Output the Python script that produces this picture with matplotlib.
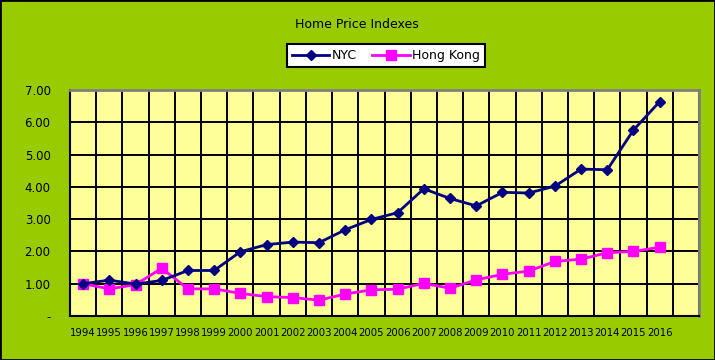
import matplotlib
matplotlib.use("Agg")
import matplotlib.pyplot as plt
from matplotlib.patches import Rectangle
import numpy as np

years = [str(y) for y in range(1994, 2017)]
nyc = [1.00, 1.11, 0.99, 1.10, 1.41, 1.41, 1.99, 2.21, 2.29, 2.27, 2.67,
       2.99, 3.20, 3.94, 3.64, 3.41, 3.83, 3.81, 4.02, 4.55, 4.53, 5.76, 6.64]
hk = [1.00, 0.84, 0.97, 1.48, 0.84, 0.84, 0.70, 0.60, 0.57, 0.49, 0.68,
      0.81, 0.83, 1.01, 0.86, 1.12, 1.29, 1.39, 1.69, 1.76, 1.96, 2.00, 2.13]
yticks = [0, 1, 2, 3, 4, 5, 6, 7]
ytick_labels = ["-", "1.00", "2.00", "3.00", "4.00", "5.00", "6.00", "7.00"]

plt.rcParams['font.family'] = ['DejaVu Sans']

fig = plt.figure(figsize=(7.15, 3.6), dpi=100, facecolor="#99CC00")
ax = fig.add_axes([70/715, 1-316/360, 629/715, 226/360])
ax.set_facecolor("#FFFF99")

x = np.arange(len(years))
ax.plot(x, nyc, color="#000080", lw=2, marker="D", ms=5.5, label="NYC", zorder=4)
ax.plot(x, hk, color="#FF00FF", lw=2, marker="s", ms=7, label="Hong Kong", zorder=3)

ax.set_xlim(-0.5, len(years) + 0.5)
ax.set_ylim(0, 7)
ax.set_xticks(x)
ax.set_xticklabels(years, fontsize=7.3)
ax.set_xticks(np.arange(-0.5, len(years) + 1, 1), minor=True)
ax.set_yticks(yticks)
ax.set_yticklabels(ytick_labels, fontsize=8.5)
ax.tick_params(axis="x", which="both", length=0, pad=9)
ax.tick_params(axis="y", which="both", length=0, pad=14)
ax.grid(True, which="minor", axis="x", color="black", lw=1.4, zorder=1)
ax.grid(True, which="major", axis="y", color="black", lw=1.4, zorder=1)
ax.set_axisbelow(True)

for s in ["top", "right"]:
    ax.spines[s].set_color("#808080")
    ax.spines[s].set_linewidth(2)
for s in ["left", "bottom"]:
    ax.spines[s].set_color("black")
    ax.spines[s].set_linewidth(1.5)

fig.text(357/715, 1-24/360, "Home Price Indexes", ha="center", va="center", fontsize=9)

leg = fig.legend(loc="center", bbox_to_anchor=(386/715, 1-55.5/360), ncol=2,
                 fontsize=9, frameon=True, fancybox=False, edgecolor="black",
                 framealpha=1.0, handlelength=3.0, handletextpad=0.2,
                 columnspacing=1.2, borderpad=0.4)
leg.get_frame().set_linewidth(1.5)
leg.get_frame().set_facecolor("white")

fig.patches.append(Rectangle((0, 0), 1, 1, transform=fig.transFigure, fill=False,
                             edgecolor="black", lw=2))

fig.savefig("out.png", dpi=100, facecolor=fig.get_facecolor())
